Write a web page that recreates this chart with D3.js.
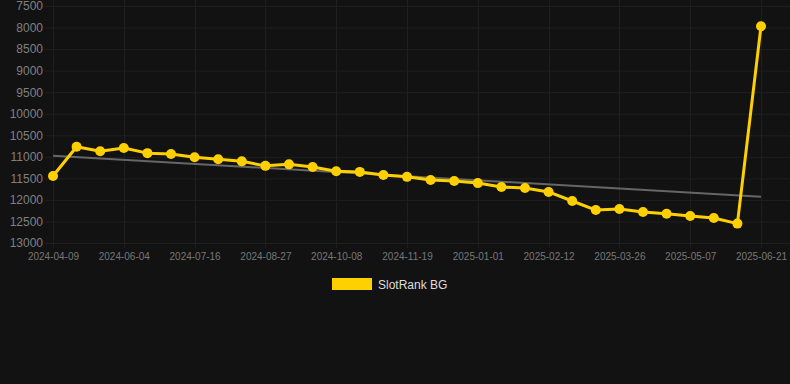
<!DOCTYPE html>
<html>
<head lang="en">
    <meta charset="UTF-8">
    <script type="text/javascript" src="https://cdn.jsdelivr.net/npm/d3@7"></script>
    <title></title>
</head>
<body style="margin:0;background:#121212;">
<style>
    svg text{
        font-family: "Liberation Sans", Arial, sans-serif;
    }
    .grid line{
        stroke: #1f1f1f;
        stroke-width: 1;
    }
</style>
<script type="text/javascript">
    // 日期(横轴分类)
    var dates = ["2024-04-09","2024-04-23","2024-05-21","2024-06-04","2024-06-18","2024-07-02",
        "2024-07-16","2024-07-30","2024-08-13","2024-08-27","2024-09-10","2024-09-24",
        "2024-10-08","2024-10-22","2024-11-05","2024-11-19","2024-12-03","2024-12-17",
        "2025-01-01","2025-01-15","2025-01-29","2025-02-12","2025-02-26","2025-03-12",
        "2025-03-26","2025-04-09","2025-04-23","2025-05-07","2025-05-21","2025-06-04",
        "2025-06-21"];
    // 排名
    var ranks = [11445,10765,10870,10795,10915,10935,11010,11055,11105,11210,11175,11235,
        11335,11350,11420,11465,11540,11560,11610,11700,11725,11815,12025,12235,12210,
        12280,12320,12375,12420,12550,7970];
    // 趋势线两端
    var trend = [10975, 11925];
    var yTicks = [7500,8000,8500,9000,9500,10000,10500,11000,11500,12000,12500,13000];
    var seriesName = "SlotRank BG";

    var w1 = 790;
    var h1 = 384;
    var svg = d3.select("body")
            .append("svg")
            .attr("width", w1)
            .attr("height", h1)
            .style("display", "block");

    var x = d3.scalePoint().domain(dates).range([53, 761]);
    var y = d3.scaleLinear().domain([7500, 13000]).range([6, 243]);
    var xTicks = dates.filter(function(d, i){ return i % 3 == 0; });

    // 网格
    var grid = svg.append("g").attr("class", "grid");
    grid.selectAll("line.h").data(yTicks).enter().append("line")
            .attr("x1", 45).attr("x2", w1)
            .attr("y1", function(d){ return y(d) + 0.5; })
            .attr("y2", function(d){ return y(d) + 0.5; });
    grid.selectAll("line.v").data(xTicks).enter().append("line")
            .attr("x1", function(d){ return Math.round(x(d)) + 0.5; })
            .attr("x2", function(d){ return Math.round(x(d)) + 0.5; })
            .attr("y1", 0).attr("y2", 248);

    // 坐标轴
    var yAxis = svg.append("g")
            .attr("transform", "translate(45,0)")
            .call(d3.axisLeft(y).tickValues(yTicks).tickSize(0).tickPadding(2).tickFormat(d3.format("d")));
    yAxis.select(".domain").remove();
    yAxis.selectAll("text").attr("fill", "#808080").style("font-size", "12px");

    var xAxis = svg.append("g")
            .attr("transform", "translate(0,243)")
            .call(d3.axisBottom(x).tickValues(xTicks).tickSize(0).tickPadding(10));
    xAxis.select(".domain").remove();
    xAxis.selectAll("text").attr("fill", "#777").style("font-size", "10px");

    // 趋势线
    svg.append("line")
            .attr("x1", x(dates[0])).attr("y1", y(trend[0]))
            .attr("x2", x(dates[dates.length - 1])).attr("y2", y(trend[1]))
            .attr("stroke", "#666").attr("stroke-width", 2);

    // 折线
    var line = d3.line()
            .x(function(d, i){ return x(dates[i]); })
            .y(function(d){ return y(d); });
    svg.append("path")
            .datum(ranks)
            .attr("d", line)
            .attr("fill", "none")
            .attr("stroke", "#ffd000")
            .attr("stroke-width", 3)
            .attr("stroke-linejoin", "round");

    svg.selectAll("circle").data(ranks).enter().append("circle")
            .attr("cx", function(d, i){ return x(dates[i]); })
            .attr("cy", function(d){ return y(d); })
            .attr("r", 5)
            .attr("fill", "#ffd000");

    // 图例
    svg.append("rect")
            .attr("x", 332).attr("y", 278)
            .attr("width", 40).attr("height", 12)
            .attr("fill", "#ffd000");
    svg.append("text")
            .attr("x", 378).attr("y", 288.5)
            .attr("fill", "#ddd")
            .style("font-size", "12px")
            .text(seriesName);
</script>

</body>
</html>
